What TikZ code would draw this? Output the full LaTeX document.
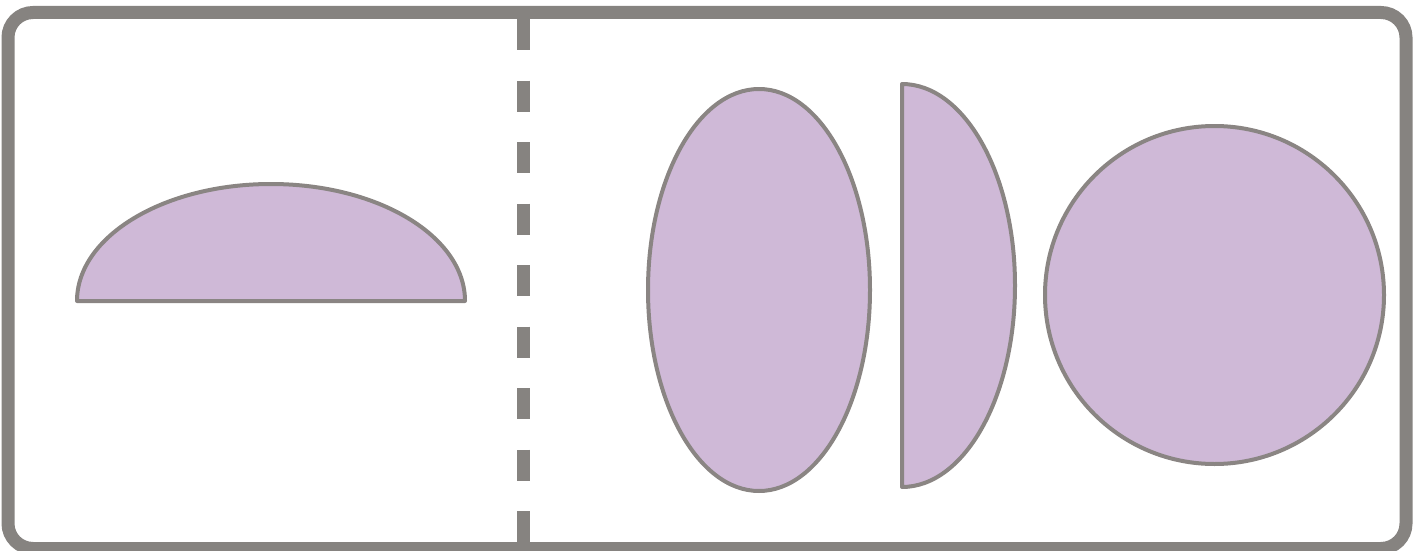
\documentclass[tikz,border=0pt]{standalone}
\definecolor{frame}{RGB}{134,131,128}
\definecolor{edge}{RGB}{138,133,131}
\definecolor{lilac}{RGB}{207,185,215}
\begin{document}
\begin{tikzpicture}[x=1pt,y=-1pt,line width=4pt,
		lens/.style={draw=edge,fill=lilac,line join=round}]
		\useasboundingbox (0,0) rectangle (1416,551);
		
		\coordinate (A) at (  77,301);   % flat half, left
		\coordinate (B) at ( 759,290);   % tall ellipse
		\coordinate (C) at ( 902, 84);   % half lens, upright
		\coordinate (D) at (1214.5,295); % round one
		
		\draw[lens] (A) arc[start angle=180,end angle=360,x radius=194,y radius=117] --cycle;
		\draw[lens] (B) ellipse[x radius=111,y radius=201];
		\draw[lens] (C) arc[start angle=-90,end angle=90,x radius=113,y radius=201.5] --cycle;
		\draw[lens] (D) circle[x radius=169.5,y radius=169];
		
		\draw[frame,line width=13pt,dash pattern=on 31pt off 30.5pt] (523.5,19)--(523.5,542);
		\draw[frame,line width=13pt,rounded corners=25pt] (8,12.5) rectangle (1406,548.5);
	\end{tikzpicture}
\end{document}
